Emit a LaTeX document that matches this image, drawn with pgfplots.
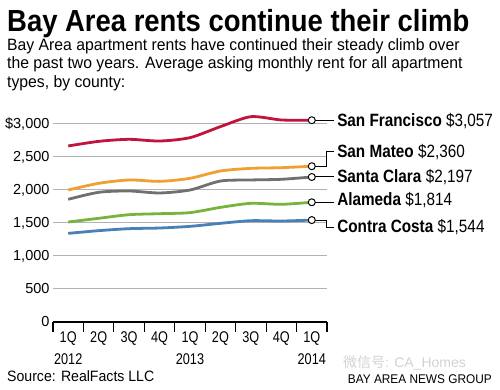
\documentclass[border=0pt]{standalone}
\usepackage{fontspec}
\usepackage{pgfplots}
\pgfplotsset{compat=1.18}
\setmainfont{Liberation Sans}
\newfontfamily\titlef[FakeStretch=0.9]{Liberation Sans}
\newfontfamily\condf[FakeStretch=0.82]{Liberation Sans}
\newfontfamily\labf[FakeStretch=0.86]{Liberation Sans}
\newfontfamily\semif[FakeStretch=0.94]{Liberation Sans}
\newfontfamily\subf[FakeStretch=0.96]{Liberation Sans}
\newfontfamily\cjk{Noto Sans CJK SC}
\definecolor{sfc}{HTML}{C0143C}
\definecolor{smc}{HTML}{F0A030}
\definecolor{scc}{HTML}{707070}
\definecolor{alc}{HTML}{78B43C}
\definecolor{ccc}{HTML}{4A80B8}
\begin{document}
\begin{tikzpicture}
\useasboundingbox (0,0) rectangle (500pt,390pt);
\node[anchor=base west, inner sep=0pt] at (7pt,358pt) {\titlef\bfseries\fontsize{30.5}{32}\selectfont Bay Area rents continue their climb};
\node[anchor=base west, inner sep=0pt] at (7pt,339pt) {\subf\fontsize{16.4}{18}\selectfont Bay Area apartment rents have continued their steady climb over};
\node[anchor=base west, inner sep=0pt] at (7pt,321pt) {\subf\fontsize{16.4}{18}\selectfont the past two years. Average asking monthly rent for all apartment};
\node[anchor=base west, inner sep=0pt] at (7pt,302pt) {\subf\fontsize{16.4}{18}\selectfont types, by county:};
\node[anchor=base west, inner sep=0pt] at (7pt,8pt) {\semif\fontsize{15}{17}\selectfont Source: RealFacts LLC};
\node[anchor=base east, inner sep=0pt] at (492pt,6pt) {\semif\fontsize{12.6}{14}\selectfont BAY AREA NEWS GROUP};
\node[anchor=base west, inner sep=0pt, text=gray!35] at (343pt,22pt) {\fontsize{14}{16}\selectfont{\cjk 微信号}: CA\_Homes};
\begin{axis}[
  at={(53pt,68pt)}, anchor=south west, scale only axis,
  width=274pt, height=198pt,
  xmin=-0.5, xmax=8.5, ymin=0, ymax=3000, clip=false,
  axis x line*=bottom, axis y line*=left,
  x axis line style={-, black, line width=2pt},
  y axis line style={draw=none},
  ytick={0,500,...,3000},
  yticklabels={0,500,{1,000},{1,500},{2,000},{2,500},{\$3,000}},
  ymajorgrids, major grid style={black!30, line width=1pt},
  major tick length=0pt,
  xtick={0,...,8},
  xticklabels={{1Q\\2012},{2Q\\\strut},{3Q\\\strut},{4Q\\\strut},{1Q\\2013},{2Q\\\strut},{3Q\\\strut},{4Q\\\strut},{1Q\\2014}},
  minor xtick={-0.5,0.5,...,8.5},
  tick align=outside,
  minor tick length=10pt,
  minor tick style={black, line width=1.2pt},
  xticklabel style={font=\condf\fontsize{15.5}{22}\selectfont, align=center, anchor=north, yshift=-6pt},
  yticklabel style={font=\fontsize{14.5}{16}\selectfont, anchor=east, xshift=0pt},
  every axis plot/.append style={line width=2.8pt, line join=round, smooth, tension=0.45},
]
\addplot[sfc] coordinates {(0,2667)(1,2737)(2,2768)(3,2742)(4,2793)(5,2960)(6,3111)(7,3061)(8,3057)};
\addplot[smc] coordinates {(0,2000)(1,2101)(2,2152)(3,2131)(4,2177)(5,2288)(6,2328)(7,2338)(8,2360)};
\addplot[scc] coordinates {(0,1859)(1,1965)(2,1985)(3,1955)(4,2000)(5,2136)(6,2152)(7,2162)(8,2197)};
\addplot[alc] coordinates {(0,1515)(1,1571)(2,1626)(3,1641)(4,1657)(5,1737)(6,1798)(7,1783)(8,1814)};
\addplot[ccc] coordinates {(0,1343)(1,1384)(2,1414)(3,1424)(4,1449)(5,1495)(6,1535)(7,1530)(8,1544)};
\draw[black, line width=1pt] ([xshift=3pt]axis cs:8,3057) -- (axis cs:8.72,3057);
\draw[black, line width=1pt] ([xshift=3pt]axis cs:8,2360) -| (axis cs:8.47,2576) -- (axis cs:8.72,2576);
\draw[black, line width=1pt] ([xshift=3pt]axis cs:8,2197) -- (axis cs:8.72,2197);
\draw[black, line width=1pt] ([xshift=3pt]axis cs:8,1814) -- (axis cs:8.72,1814);
\draw[black, line width=1pt] ([xshift=3pt]axis cs:8,1544) -| (axis cs:8.47,1439) -- (axis cs:8.72,1439);
\addplot[only marks, mark=*, mark size=3.5pt, mark options={fill=white, draw=black, line width=1pt}] coordinates {(8,3057)(8,2360)(8,2197)(8,1814)(8,1544)};
\node[anchor=west, inner sep=0pt] at (axis cs:8.83,3045) {\labf\fontsize{17.8}{19}\selectfont\textbf{San Francisco} \$3,057};
\node[anchor=west, inner sep=0pt] at (axis cs:8.83,2576) {\labf\fontsize{17.8}{19}\selectfont\textbf{San Mateo} \$2,360};
\node[anchor=west, inner sep=0pt] at (axis cs:8.83,2197) {\labf\fontsize{17.8}{19}\selectfont\textbf{Santa Clara} \$2,197};
\node[anchor=west, inner sep=0pt] at (axis cs:8.83,1848) {\labf\fontsize{17.8}{19}\selectfont\textbf{Alameda} \$1,814};
\node[anchor=west, inner sep=0pt] at (axis cs:8.83,1439) {\labf\fontsize{17.8}{19}\selectfont\textbf{Contra Costa} \$1,544};
\end{axis}
\end{tikzpicture}
\end{document}
